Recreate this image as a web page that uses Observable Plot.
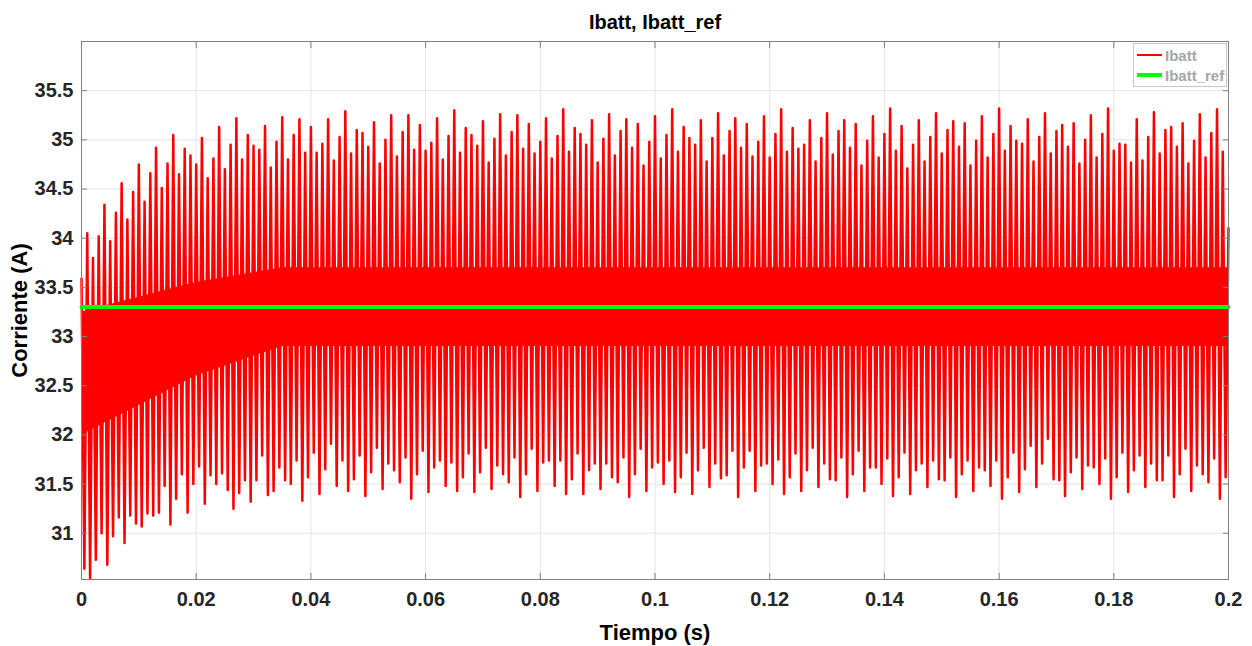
<!DOCTYPE html>
<html>
<head>
<meta charset="utf-8">
<script src="https://cdn.jsdelivr.net/npm/d3@7"></script>
<script src="https://cdn.jsdelivr.net/npm/@observablehq/plot@0.6"></script>
<style>
  html, body { margin: 0; padding: 0; background: #fff; }
  #wrap { position: relative; width: 1252px; height: 646px; }
  #legend { position: absolute; left: 1133px; top: 43px; width: 94px; height: 44px;
    background: #fff; border: 1px solid #c8c8c8; box-sizing: border-box;
    font-family: "Liberation Sans", Arial, sans-serif; font-weight: bold; font-size: 15px; color: #a6a6a6; }
  .item { position: absolute; left: 3px; height: 18px; display: flex; align-items: center; }
  .sw { width: 25px; margin-right: 3px; }
</style>
</head>
<body>
<div id="wrap"></div>
<script>
// ---- data ----
const title = "Ibatt, Ibatt_ref";
const xLabel = "Tiempo (s)";
const yLabel = "Corriente (A)";
const seriesNames = ["Ibatt", "Ibatt_ref"];
const seriesColors = ["#ff0000", "#00ff00"];

const xTicks = [0, 0.02, 0.04, 0.06, 0.08, 0.1, 0.12, 0.14, 0.16, 0.18, 0.2];
const xTickLabels = ["0", "0.02", "0.04", "0.06", "0.08", "0.1", "0.12", "0.14", "0.16", "0.18", "0.2"];
const yTicks = [31, 31.5, 32, 32.5, 33, 33.5, 34, 34.5, 35, 35.5];
const yTickLabels = ["31", "31.5", "32", "32.5", "33", "33.5", "34", "34.5", "35", "35.5"];

// switching period of the ripple (s) and end of simulation
const period = 0.001;
const tEnd = 0.2;

// Ibatt: local maxima of each ripple period (A)
const ibattPeaks = [
  33.59, 34.05, 33.80, 34.02, 34.34, 33.97, 34.26, 34.56, 34.19, 34.47,
  34.75, 34.37, 34.66, 34.92, 34.51, 34.76, 35.05, 34.65, 34.91, 34.84,
  34.75, 35.02, 34.61, 34.81, 35.13, 34.70, 34.95, 35.22, 34.80, 35.05,
  34.94, 34.90, 35.14, 34.72, 34.98, 35.23, 34.80, 35.05, 35.21, 34.87,
  35.13, 34.87, 34.96, 35.21, 34.79, 35.03, 35.29, 34.86, 35.10, 35.07,
  34.93, 35.18, 34.76, 35.00, 35.25, 34.83, 35.08, 35.25, 34.90, 35.15,
  34.89, 34.97, 35.22, 34.80, 35.04, 35.30, 34.87, 35.12, 35.05, 34.94,
  35.19, 34.77, 35.01, 35.26, 34.84, 35.08, 35.25, 34.91, 35.16, 34.86,
  34.98, 35.22, 34.81, 35.04, 35.31, 34.88, 35.12, 35.06, 34.95, 35.20,
  34.77, 35.01, 35.26, 34.84, 35.09, 35.21, 34.92, 35.16, 34.74, 34.98,
  35.24, 34.81, 35.05, 35.31, 34.88, 35.13, 35.02, 34.95, 35.20, 34.78,
  35.02, 35.27, 34.84, 35.09, 35.22, 34.92, 35.16, 34.83, 34.98, 35.24,
  34.82, 35.06, 35.31, 34.88, 35.12, 34.91, 34.95, 35.20, 34.78, 35.02,
  35.27, 34.85, 35.09, 35.20, 34.92, 35.16, 34.74, 34.99, 35.24, 34.82,
  35.06, 35.32, 34.89, 35.14, 34.71, 34.95, 35.20, 34.78, 35.03, 35.27,
  34.86, 35.10, 35.19, 34.93, 35.17, 34.74, 34.99, 35.24, 34.82, 35.06,
  35.32, 34.89, 35.14, 34.99, 34.96, 35.21, 34.78, 35.03, 35.27, 34.86,
  35.09, 35.15, 34.93, 35.17, 34.76, 35.00, 35.25, 34.82, 35.06, 35.32,
  34.89, 34.96, 34.95, 34.77, 35.21, 34.79, 35.03, 35.28, 34.86, 35.10,
  35.13, 34.93, 35.17, 34.76, 34.99, 35.26, 34.82, 35.07, 35.31, 34.88
];
// Ibatt: local minima of each ripple period (A)
const ibattTroughs = [
  30.64, 30.54, 30.73, 31.00, 30.68, 30.97, 31.16, 30.90, 31.18, 31.10,
  31.07, 31.20, 31.18, 31.21, 31.48, 31.09, 31.35, 31.60, 31.21, 31.50,
  31.68, 31.30, 31.59, 31.50, 31.61, 31.44, 31.25, 31.41, 31.54, 31.32,
  31.54, 31.79, 31.39, 31.43, 31.67, 31.54, 31.50, 31.74, 31.33, 31.57,
  31.82, 31.40, 31.65, 31.91, 31.48, 31.74, 31.43, 31.55, 31.79, 31.38,
  31.62, 31.87, 31.45, 31.71, 31.64, 31.52, 31.77, 31.35, 31.60, 31.84,
  31.42, 31.67, 31.74, 31.48, 31.72, 31.43, 31.57, 31.81, 31.42, 31.62,
  31.87, 31.45, 31.69, 31.60, 31.52, 31.77, 31.37, 31.60, 31.86, 31.43,
  31.72, 31.74, 31.48, 31.74, 31.40, 31.55, 31.81, 31.40, 31.64, 31.71,
  31.45, 31.71, 31.57, 31.52, 31.77, 31.37, 31.60, 31.86, 31.43, 31.67,
  31.72, 31.50, 31.74, 31.42, 31.57, 31.82, 31.40, 31.64, 31.87, 31.47,
  31.71, 31.56, 31.59, 31.84, 31.37, 31.67, 31.84, 31.43, 31.69, 31.71,
  31.50, 31.75, 31.40, 31.57, 31.81, 31.43, 31.64, 31.87, 31.47, 31.71,
  31.55, 31.54, 31.77, 31.37, 31.60, 31.84, 31.43, 31.67, 31.67, 31.50,
  31.76, 31.38, 31.57, 31.82, 31.40, 31.64, 31.71, 31.47, 31.74, 31.55,
  31.54, 31.77, 31.37, 31.60, 31.74, 31.43, 31.67, 31.64, 31.48, 31.74,
  31.35, 31.57, 31.82, 31.42, 31.65, 31.89, 31.47, 31.71, 31.96, 31.55,
  31.54, 31.38, 31.62, 31.77, 31.45, 31.69, 31.67, 31.50, 31.76, 31.35,
  31.57, 31.82, 31.42, 31.64, 31.79, 31.47, 31.71, 31.54, 31.54, 31.79,
  31.37, 31.60, 31.86, 31.43, 31.69, 31.60, 31.52, 31.76, 31.35, 31.57
];
const ibattFinal = 34.10;

// dense (fully drawn) core of the Ibatt ripple band
const coreT    = [0,     0.010, 0.020, 0.035, 0.2];
const coreLow  = [32.00, 32.30, 32.60, 32.90, 32.90];
const coreHigh = [33.25, 33.40, 33.55, 33.70, 33.70];

// Ibatt_ref (A)
const ibattRef = 33.3;

// ---- build tables ----
const ibatt = [];
ibattPeaks.forEach((p, i) => {
  ibatt.push({t: i * period, v: p});
  ibatt.push({t: i * period + period / 2, v: ibattTroughs[i]});
});
ibatt.push({t: tEnd, v: ibattFinal});
const core = coreT.map((t, i) => ({t, lo: coreLow[i], hi: coreHigh[i]}));
const ref = [{t: 0, v: ibattRef}, {t: tEnd, v: ibattRef}];

const xLab = new Map(xTicks.map((v, i) => [v, xTickLabels[i]]));
const yLab = new Map(yTicks.map((v, i) => [v, yTickLabels[i]]));
const axisGray = "#808080";
const ink = "#262626";

const chart = Plot.plot({
  width: 1252,
  height: 646,
  marginLeft: 81,
  marginRight: 24,
  marginTop: 41,
  marginBottom: 67,
  style: {fontFamily: "'Liberation Sans', Arial, sans-serif", fontSize: "20px", fontWeight: "bold", background: "#fff", color: ink},
  x: {domain: [0, tEnd]},
  y: {domain: [30.53, 36]},
  marks: [
    Plot.gridX(xTicks, {stroke: "#e4e4e4", strokeOpacity: 1}),
    Plot.gridY(yTicks, {stroke: "#e4e4e4", strokeOpacity: 1}),
    Plot.areaY(core, {x: "t", y1: "lo", y2: "hi", fill: seriesColors[0]}),
    Plot.line(ibatt, {x: "t", y: "v", stroke: seriesColors[0], strokeWidth: 2.5}),
    Plot.line(ref, {x: "t", y: "v", stroke: seriesColors[1], strokeWidth: 4}),
    Plot.frame({stroke: axisGray}),
    Plot.axisX(xTicks, {anchor: "bottom", tickSize: -6, tickPadding: 18, stroke: axisGray, fill: ink, tickFormat: d => xLab.get(d), label: null}),
    Plot.axisX(xTicks, {anchor: "top", tickSize: -6, stroke: axisGray, tickFormat: () => "", label: null}),
    Plot.axisY(yTicks, {anchor: "left", tickSize: -6, tickPadding: 14, stroke: axisGray, fill: ink, tickFormat: d => yLab.get(d), label: null}),
    Plot.axisY(yTicks, {anchor: "right", tickSize: -6, stroke: axisGray, tickFormat: () => "", label: null}),
    Plot.text([title], {frameAnchor: "top", dy: -19, lineAnchor: "middle", textAnchor: "middle", text: d => d, fontSize: 20, fill: "#000"}),
    Plot.text([xLabel], {frameAnchor: "bottom", dy: 53, lineAnchor: "middle", textAnchor: "middle", text: d => d, fontSize: 22, fill: "#000"}),
    Plot.text([yLabel], {frameAnchor: "left", dx: -62, rotate: -90, lineAnchor: "middle", textAnchor: "middle", text: d => d, fontSize: 22, fill: "#000"})
  ]
});

const wrap = document.getElementById("wrap");
wrap.appendChild(chart);

const legend = document.createElement("div");
legend.id = "legend";
seriesNames.forEach((name, i) => {
  const item = document.createElement("div");
  item.className = "item";
  item.style.top = (i === 0 ? 2 : 22) + "px";
  const sw = document.createElement("div");
  sw.className = "sw";
  sw.style.height = (i === 0 ? 2 : 4) + "px";
  sw.style.background = seriesColors[i];
  const lab = document.createElement("span");
  lab.textContent = name;
  item.appendChild(sw);
  item.appendChild(lab);
  legend.appendChild(item);
});
wrap.appendChild(legend);
</script>
</body>
</html>
